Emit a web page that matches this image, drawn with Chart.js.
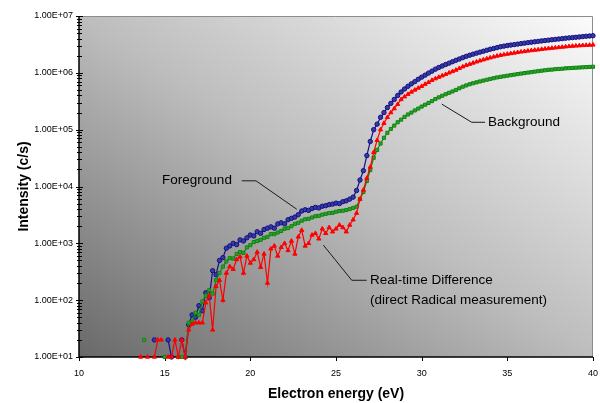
<!DOCTYPE html>
<html lang="en">
<head>
<meta charset="UTF-8">
<title>Intensity vs electron energy</title>
<script src="https://cdn.jsdelivr.net/npm/chart.js"></script>
<style>
  html, body { margin: 0; padding: 0; background: #fff; }
</style>
</head>
<body>
<canvas id="grafico" width="600" height="403"></canvas>
<script>
// eixo x: energia do eletron (eV), passo de 0.2
const energia = [
  13.6, 13.8, 14.0, 14.2, 14.4, 14.6, 14.8, 15.0, 15.2, 15.4, 15.6, 15.8, 16.0, 16.2,
  16.4, 16.6, 16.8, 17.0, 17.2, 17.4, 17.6, 17.8, 18.0, 18.2, 18.4, 18.6, 18.8, 19.0,
  19.2, 19.4, 19.6, 19.8, 20.0, 20.2, 20.4, 20.6, 20.8, 21.0, 21.2, 21.4, 21.6, 21.8,
  22.0, 22.2, 22.4, 22.6, 22.8, 23.0, 23.2, 23.4, 23.6, 23.8, 24.0, 24.2, 24.4, 24.6,
  24.8, 25.0, 25.2, 25.4, 25.6, 25.8, 26.0, 26.2, 26.4, 26.6, 26.8, 27.0,
  27.2, 27.4, 27.6, 27.8, 28.0, 28.2, 28.4, 28.6, 28.8, 29.0, 29.2, 29.4, 29.6, 29.8,
  30.0, 30.2, 30.4, 30.6, 30.8, 31.0, 31.2, 31.4, 31.6, 31.8, 32.0, 32.2, 32.4, 32.6,
  32.8, 33.0, 33.2, 33.4, 33.6, 33.8, 34.0, 34.2, 34.4, 34.6, 34.8, 35.0, 35.2, 35.4,
  35.6, 35.8, 36.0, 36.2, 36.4, 36.6, 36.8, 37.0, 37.2, 37.4, 37.6, 37.8, 38.0, 38.2,
  38.4, 38.6, 38.8, 39.0, 39.2, 39.4, 39.6, 39.8, 40.0
];

// intensidades (c/s) - null = contagem zero (nao aparece no log)
const foreground = [
  null, null, null, null, 20, null, null, null, 20, 10, null, null, 20, 10,
  37, 55, 50, 80, 65, 135, 110, 330, 280, 500, 560, 820, 900, 1000,
  950, 1150, 1100, 1250, 1400, 1350, 1600, 1500, 1750, 1850, 1950, 1850, 2200, 2300,
  2200, 2600, 2750, 2900, 3200, 3700, 3900, 3800, 4100, 4300, 4200, 4500, 4600, 4800,
  4900, 5100, 5000, 5400, 5600, 6000, 6500, 8500, 13000, 19000, 35000, 62000,
  100000, 125000, 165000, 200000, 245000, 290000, 340000, 400000, 460000, 520000, 580000, 640000, 700000, 770000,
  840000, 910000, 990000, 1.07e6, 1.16e6, 1.24e6, 1.32e6, 1.40e6, 1.48e6, 1.57e6, 1.66e6, 1.75e6, 1.85e6, 1.95e6,
  2.04e6, 2.13e6, 2.22e6, 2.31e6, 2.40e6, 2.50e6, 2.60e6, 2.68e6, 2.78e6, 2.88e6, 2.95e6, 3.02e6, 3.08e6, 3.14e6,
  3.20e6, 3.27e6, 3.33e6, 3.40e6, 3.46e6, 3.52e6, 3.58e6, 3.64e6, 3.70e6, 3.76e6, 3.82e6, 3.88e6, 3.94e6, 4.00e6,
  4.06e6, 4.12e6, 4.17e6, 4.22e6, 4.28e6, 4.34e6, 4.40e6, 4.45e6, 4.50e6
];

const background = [
  null, 20, null, null, null, null, null, 10, null, null, null, 10, 10, 10,
  40, 42, 60, 55, 95, 120, 150, 130, 225, 300, 390, 480, 550, 540,
  650, 700, 680, 850, 930, 1050, 1100, 1150, 1250, 1300, 1450, 1450, 1550, 1650,
  1800, 1850, 2000, 2200, 2300, 2500, 2650, 2700, 2850, 3000, 3050, 3200, 3300, 3400,
  3450, 3600, 3700, 3750, 3850, 4000, 4200, 4400, 6000, 8000, 12500, 19500,
  32000, 44000, 57000, 72000, 88000, 103000, 118000, 135000, 150000, 168000, 185000, 200000, 218000, 235000,
  255000, 275000, 295000, 318000, 345000, 370000, 395000, 420000, 445000, 470000, 500000, 535000, 570000, 600000,
  630000, 655000, 680000, 705000, 730000, 755000, 780000, 805000, 830000, 850000, 870000, 890000, 910000, 930000,
  950000, 970000, 990000, 1.01e6, 1.03e6, 1.05e6, 1.07e6, 1.09e6, 1.11e6, 1.13e6, 1.14e6, 1.16e6, 1.17e6, 1.18e6,
  1.20e6, 1.21e6, 1.22e6, 1.23e6, 1.24e6, 1.25e6, 1.26e6, 1.27e6, 1.28e6
];

const diferenca = [
  10, null, 10, null, 10, 20, 20, null, 10, 10, 20, 10, 20, 10,
  30, 38, 40, 40, 40, 90, 120, 30, 175, 225, 100, 300, 390, 350,
  520, 580, 300, 600, 450, 520, 700, 380, 650, 200, 800, 900, 600, 850,
  1000, 750, 1100, 650, 1300, 1700, 900, 1000, 1400, 1500, 1200, 1800, 1500, 1900,
  1600, 1800, 2100, 1900, 1600, 2100, 2600, 3400, 6000, 8700, 14000, 22000,
  40000, 65000, 100000, 130000, 165000, 200000, 235000, 280000, 340000, 380000, 420000, 460000, 500000, 540000,
  580000, 630000, 680000, 740000, 790000, 840000, 890000, 940000, 1.00e6, 1.06e6, 1.12e6, 1.20e6, 1.28e6, 1.36e6,
  1.42e6, 1.49e6, 1.56e6, 1.63e6, 1.70e6, 1.77e6, 1.84e6, 1.91e6, 1.98e6, 2.04e6, 2.09e6, 2.14e6, 2.19e6, 2.24e6,
  2.29e6, 2.34e6, 2.38e6, 2.43e6, 2.47e6, 2.51e6, 2.55e6, 2.60e6, 2.64e6, 2.68e6, 2.72e6, 2.76e6, 2.80e6, 2.84e6,
  2.88e6, 2.92e6, 2.95e6, 2.98e6, 3.01e6, 3.04e6, 3.06e6, 3.08e6, 3.10e6
];

const ticksX = [10, 15, 20, 25, 30, 35, 40];
const ticksY = [1e1, 1e2, 1e3, 1e4, 1e5, 1e6, 1e7];
const labelsY = ['1.00E+01', '1.00E+02', '1.00E+03', '1.00E+04', '1.00E+05', '1.00E+06', '1.00E+07'];

// textos com linha de chamada: x em eV, y em log10(c/s)
const anotacoes = [
  { texto: ['Foreground'], x: 14.85, y: 4.11, linha: [[19.5, 4.10], [20.33, 4.10], [22.71, 3.60]] },
  { texto: ['Real-time Difference', '(direct Radical measurement)'], x: 26.98, y: 2.355, linha: [[24.26, 2.97], [25.92, 2.35], [26.79, 2.35]] },
  { texto: ['Background'], x: 33.87, y: 5.135, linha: [[31.17, 5.45], [32.92, 5.13], [33.7, 5.13]] }
];

const fonte = "'Liberation Sans', Arial, sans-serif";

function pontos(valores) {
  return energia.map((e, i) => ({ x: e, y: valores[i] }));
}

// fundo em degrade + eixos + marcas + anotacoes
const desenhoExtra = {
  id: 'desenhoExtra',
  beforeDatasetsDraw(chart) {
    const { ctx, chartArea: a } = chart;
    const w = a.right - a.left, h = a.bottom - a.top;
    const t = 2 * w * h / (w * w + h * h);
    const g = ctx.createLinearGradient(a.left, a.bottom, a.left + t * h, a.bottom - t * w);
    g.addColorStop(0, '#696969');
    g.addColorStop(0.5, '#bdbdbd');
    g.addColorStop(1, '#fbfbfb');
    ctx.save();
    ctx.fillStyle = g;
    ctx.fillRect(a.left, a.top, w, h);

    // borda cinza em cima e a direita
    ctx.strokeStyle = '#8c8c8c';
    ctx.lineWidth = 1;
    ctx.beginPath();
    ctx.moveTo(a.left, a.top + 0.5);
    ctx.lineTo(a.right - 0.5, a.top + 0.5);
    ctx.lineTo(a.right - 0.5, a.bottom);
    ctx.stroke();

    const sx = chart.scales.x, sy = chart.scales.y;
    ctx.strokeStyle = '#000';
    ctx.lineWidth = 1;
    ctx.beginPath();
    // marcas do eixo y (cruzando o eixo)
    for (let i = 0; i < ticksY.length; i++) {
      const py = Math.round(sy.getPixelForValue(ticksY[i])) + 0.5;
      ctx.moveTo(a.left - 3, py);
      ctx.lineTo(a.left + 4, py);
      if (i < ticksY.length - 1) {
        for (let m = 2; m <= 9; m++) {
          const pm = Math.round(sy.getPixelForValue(ticksY[i] * m)) + 0.5;
          ctx.moveTo(a.left - 2, pm);
          ctx.lineTo(a.left + 3, pm);
        }
      }
    }
    // marcas do eixo x
    ticksX.forEach(v => {
      const px = Math.round(sx.getPixelForValue(v)) + 0.5;
      ctx.moveTo(px, a.bottom);
      ctx.lineTo(px, a.bottom + 4);
    });
    ctx.stroke();

    ctx.lineWidth = 1.5;
    ctx.beginPath();
    ctx.moveTo(a.left, a.top);
    ctx.lineTo(a.left, a.bottom);
    ctx.lineTo(a.right, a.bottom);
    ctx.stroke();
    ctx.restore();
  },
  afterDatasetsDraw(chart) {
    const { ctx } = chart;
    const sx = chart.scales.x, sy = chart.scales.y;
    ctx.save();
    ctx.strokeStyle = '#1a1a1a';
    ctx.lineWidth = 1;
    ctx.fillStyle = '#000';
    ctx.font = '13.5px ' + fonte;
    ctx.textBaseline = 'middle';
    ctx.textAlign = 'left';
    anotacoes.forEach(an => {
      ctx.beginPath();
      an.linha.forEach((p, i) => {
        const px = sx.getPixelForValue(p[0]);
        const py = sy.getPixelForValue(Math.pow(10, p[1]));
        if (i === 0) ctx.moveTo(px, py); else ctx.lineTo(px, py);
      });
      ctx.stroke();
      const tx = sx.getPixelForValue(an.x);
      const ty = sy.getPixelForValue(Math.pow(10, an.y));
      an.texto.forEach((s, i) => ctx.fillText(s, tx, ty + i * 20));
    });
    ctx.restore();
  }
};

new Chart(document.getElementById('grafico'), {
  type: 'line',
  data: {
    datasets: [
      {
        label: 'Real-time Difference',
        data: pontos(diferenca),
        borderColor: '#ff0000',
        backgroundColor: '#ff0000',
        borderWidth: 1.2,
        pointStyle: 'triangle',
        pointRadius: 2.4,
        pointBorderWidth: 1,
        pointBorderColor: '#ff0000',
        pointBackgroundColor: '#ff0000',
        clip: false
      },
      {
        label: 'Background',
        data: pontos(background),
        borderColor: '#0a8a0a',
        borderWidth: 1.2,
        pointStyle: 'rect',
        pointRadius: 2.2,
        pointBorderWidth: 1,
        pointBorderColor: '#0a8a0a',
        pointBackgroundColor: '#3a9a3a',
        clip: false
      },
      {
        label: 'Foreground',
        data: pontos(foreground),
        borderColor: '#10108a',
        borderWidth: 1.2,
        pointStyle: 'circle',
        pointRadius: 2.2,
        pointBorderWidth: 1,
        pointBorderColor: '#10108a',
        pointBackgroundColor: '#3a3a9a',
        clip: false
      }
    ]
  },
  options: {
    responsive: false,
    animation: false,
    devicePixelRatio: 1,
    spanGaps: false,
    layout: { padding: { top: 16, right: 7, left: 0, bottom: 0 } },
    plugins: { legend: { display: false }, tooltip: { enabled: false } },
    elements: { line: { tension: 0 } },
    scales: {
      x: {
        type: 'linear',
        min: 10,
        max: 40,
        grid: { display: false, drawTicks: false },
        border: { display: false },
        afterBuildTicks: s => { s.ticks = ticksX.map(v => ({ value: v })); },
        afterFit: s => { s.height = 46; s.paddingLeft = 0; s.paddingRight = 0; },
        ticks: { color: '#000', padding: 11, maxRotation: 0, autoSkip: false, font: { family: fonte, size: 9 } },
        title: {
          display: true, text: 'Electron energy (eV)', color: '#000',
          font: { family: fonte, size: 14, weight: 'bold' }, padding: { top: 0, bottom: 0 }
        }
      },
      y: {
        type: 'logarithmic',
        min: 10,
        max: 1e7,
        grid: { display: false, drawTicks: false },
        border: { display: false },
        afterBuildTicks: s => { s.ticks = ticksY.map(v => ({ value: v })); },
        afterFit: s => { s.width = 79; s.paddingTop = 0; s.paddingBottom = 0; },
        ticks: {
          color: '#000', padding: 6, autoSkip: false, font: { family: fonte, size: 9 },
          callback: (v, i) => labelsY[i]
        },
        title: {
          display: true, text: 'Intensity (c/s)', color: '#000',
          font: { family: fonte, size: 14, weight: 'bold' }, padding: { top: 16, bottom: 0 }
        }
      }
    }
  },
  plugins: [desenhoExtra]
});
</script>
</body>
</html>
